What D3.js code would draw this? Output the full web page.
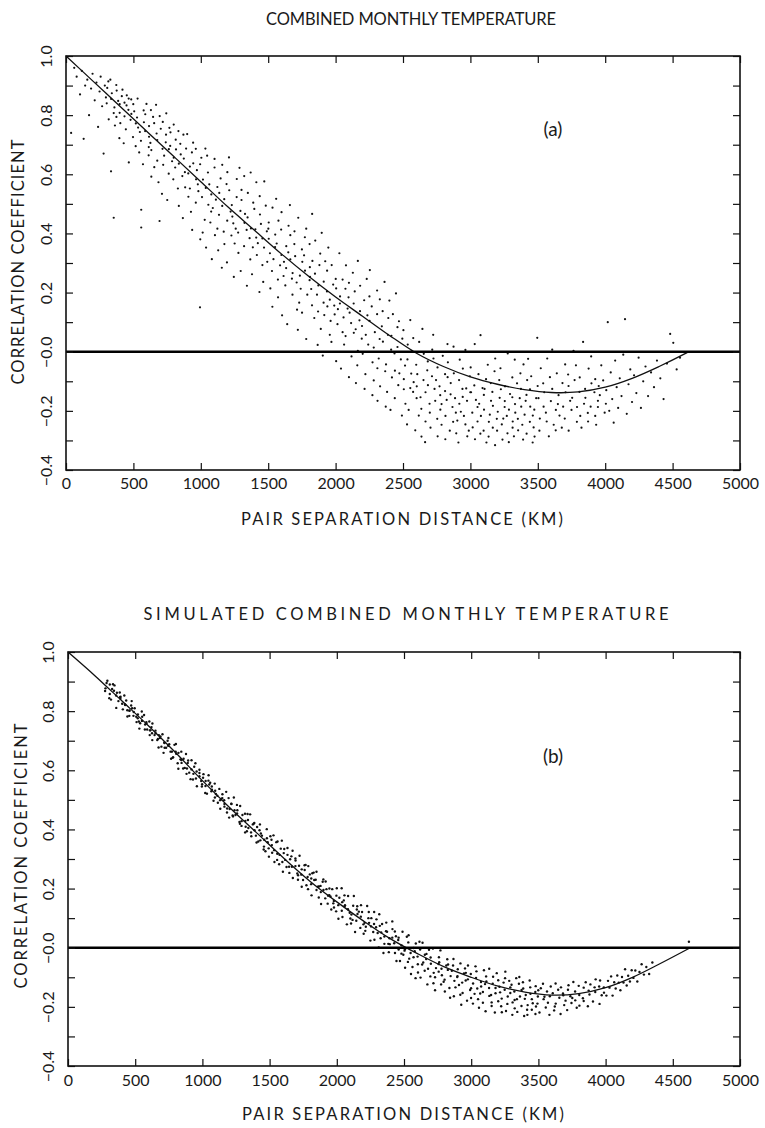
<!DOCTYPE html>
<html><head><meta charset="utf-8">
<script src="https://cdn.jsdelivr.net/npm/d3@7"></script>
<style>
html,body{margin:0;padding:0;background:#fff;}
svg{display:block;}
text{font-family:"Lato","Open Sans",sans-serif;font-weight:400;fill:#1a1a1a;}
</style></head>
<body>
<svg id="chart" width="765" height="1128"></svg>
<script>
// ---------------- DATA ----------------
const titleA = "COMBINED MONTHLY TEMPERATURE";
const titleB = "SIMULATED  COMBINED MONTHLY TEMPERATURE";
const xTitle = "PAIR SEPARATION DISTANCE (KM)";
const yTitle = "CORRELATION COEFFICIENT";
const tagA = "(a)", tagB = "(b)";
const xTickValues = [0,500,1000,1500,2000,2500,3000,3500,4000,4500,5000];
const yLabelValues = [1.0,0.8,0.6,0.4,0.2,0.0,-0.2,-0.4];
const yLabelText = ["1.0","0.8","0.6","0.4","0.2","\u22120.0","\u22120.2","\u22120.4"];
const yTickValues = [1.0,0.9,0.8,0.7,0.6,0.5,0.4,0.3,0.2,0.1,0.0,-0.1,-0.2,-0.3,-0.4];

// fitted curves: [km, correlation x100]
const curveA = [[0,100],[200,91.5],[400,83],[600,74.5],[800,66],[1000,57.5],[1200,49],[1400,41],[1600,33],[1800,25.5],[2000,18.5],[2200,12],[2400,5.5],[2600,-0.5],[2800,-5],[3000,-8.5],[3200,-11],[3400,-12.8],[3600,-13.8],[3800,-13.6],[4000,-12],[4200,-9],[4400,-5],[4600,-0.5],[4620,0]];
const curveB = [[0,100],[200,92],[400,83.5],[600,75],[800,66],[1000,56.5],[1200,47.5],[1400,39],[1600,30.5],[1800,22.5],[2000,15.5],[2200,9],[2400,3],[2600,-2],[2800,-6.5],[3000,-10],[3200,-13],[3400,-15],[3600,-16],[3800,-15.5],[4000,-13.5],[4200,-10],[4400,-5.5],[4630,0]];

// station pairs, observed: [km, correlation x100]
const pointsA = [
[38,74],[61,96],[79,93],[104,87],[117,95],[131,72],[142,90],[158,92],[171,80],[186,89],[197,94],[213,85],[226,91],[238,76],[249,88],[257,93],[268,83],[279,67],[288,90],[296,86],
[314,91.4],[302,84],[317,78.6],[306,89.2],[335,85.5],[329,92],[354,80.7],[334,61],[354,45.3],[340,87.4],[359,82.6],[373,90.2],[363,76.5],[387,84.8],[376,88.3],[374,79.4],[398,83.7],[396,72.2],[414,86.4],[398,80.8],[419,88.6],[403,77.3],[434,84.2],[428,70.5],[451,86.7],[434,79.6],[449,83.3],[444,75.2],[465,85.6],[479,78.4],[466,64],[463,81.8],[484,85.3],[497,72.6],[485,80.4],[518,77.2],[499,83.7],[517,69.5],[506,81.3],[535,75.8],[531,85.6],[543,67.4],[527,79.2],[558,48],[548,74.3],[558,42],[576,81.6],[556,71.3],[578,77.6],[571,63.4],[597,83.8],[587,74.6],[614,69.2],
[588,80.3],[616,72.7],[613,66.4],[630,81.7],[616,76.3],[633,59.2],[626,70.6],[646,79.4],[633,68.2],[668,83.5],[655,62.4],[672,73.8],[654,77.3],[677,64.6],[694,44.2],[677,71.6],[695,79.7],[686,57.3],[716,68.6],[703,75.4],[721,63.2],[718,77.7],[712,53.4],[740,70.8],[728,66.3],[744,80.6],[762,60.2],[742,73.4],[763,68.5],[751,51.3],[767,75.7],[787,64.4],[773,69.6],[796,58.3],[775,74.2],[799,65.6],[810,62.3],[799,76.8],[830,55.2],[816,68.4],[814,71.7],[837,49.3],[837,63.6],[834,74.6],[863,59.4],[851,66.7],[867,45.2],[848,70.3],[882,60.7],[871,73.4],[884,55.6],[874,65.3],[908,52.4],[891,68.7],[907,60.3],[899,73.6],[927,47.3],[919,62.6],[934,67.4],[919,55.2],[943,70.7],[936,41.2],[965,58.3],[944,63.7],[963,50.4],[963,68.6],[982,54.3],[971,61.4],[996,38],[978,56.6],[994,15],[1004,65.6],
[1009,52.3],[995,63.4],[1029,44.6],[1016,58.2],[1034,68.7],[1014,40.3],[1037,55.4],[1053,60.6],[1039,35.2],[1056,49.7],[1047,66.3],[1077,47.4],[1063,56.6],[1082,31.3],[1078,53.2],[1071,43.7],[1102,62.3],[1089,48.6],[1105,39.4],[1123,55.7],[1102,65.2],[1123,41.6],[1112,51.4],[1129,34.3],[1147,58.6],[1135,46.3],[1156,28.4],[1137,53.7],[1159,63.2],[1170,40.6],[1159,49.3],[1191,56.7],[1175,36.4],[1174,51.6],[1196,44.3],[1197,60.7],[1194,30.2],[1221,47.4],[1211,54.6],[1227,39.3],[1209,65.7],[1241,43.4],[1230,49.6],[1245,25.3],[1234,45.7],[1267,58.4],[1251,36.6],[1266,52.3],[1259,41.6],[1287,62.2],[1279,33.4],[1294,47.6],[1277,40.3],[1302,54.7],[1296,27.3],[1324,43.6],[1302,51.3],[1321,35.7],[1322,59.4],[1340,41.2],
[1342,22.3],[1328,46.6],[1362,38.4],[1349,53.7],[1367,31.2],[1347,45.4],[1370,60.6],[1386,35.3],[1372,41.7],[1389,50.4],[1380,26.2],[1411,38.6],[1397,48.3],[1416,32.7],[1412,57.3],[1405,41.4],[1435,20.2],[1423,36.7],[1439,46.4],[1457,29.3],[1437,52.6],[1457,38.3],[1446,43.2],[1463,23.6],[1482,49.4],[1469,35.2],[1490,40.7],[1471,57.6],[1493,30.4],[1504,43.7],
[1513,33.3],[1501,41.6],[1516,21.4],[1504,38.2],[1532,48.7],[1528,27.3],[1551,35.4],[1531,15.2],[1552,39.6],[1539,31.3],[1559,51.7],[1572,24.4],[1563,36.6],[1588,29.2],[1576,44.3],[1573,18.4],[1598,32.7],[1596,41.3],[1614,25.6],[1599,47.2],[1617,30.4],[1603,12.3],[1634,35.7],[1627,22.4],[1651,42.6],[1633,28.3],[1649,33.6],[1641,9.3],[1664,39.4],[1676,24.7],[1664,31.2],[1661,49.6],[1680,19.3],[1694,36.4],[1681,26.6],[1714,14.2],[1695,40.7],[1711,23.4],[1700,32.3],[1730,16.6],[1723,45.3],[1735,25.7],[1720,7.4],[1750,34.6],[1741,21.3],[1753,30.4],[1772,38.7],[1751,13.2],[1773,27.4],[1766,32.6],[1790,19.3],[1782,41.6],[1807,24.2],[1782,4.3],[1809,28.6],[1807,36.4],[1825,15.7],[1810,25.3],[1826,46.6],[1819,21.2],
[1842,11.4],[1828,30.7],[1862,19.3],[1849,37.6],[1867,2.3],[1847,26.4],[1870,13.6],[1886,33.2],[1872,22.4],[1890,7.7],[1880,29.3],[1911,16.6],[1897,40.2],[1916,12.4],[1912,23.7],[1905,-1.3],[1936,20.4],[1923,30.6],[1939,15.3],[1957,5.7],[1937,27.4],[1957,17.6],[1946,35.2],[1963,10.4],[1982,22.7],[1969,3.3],[1990,15.6],[1971,29.3],[1993,12.6],[2004,21.4],
[2014,9.3],[2001,24.6],[2017,14.4],[2004,-3.2],[2033,18.7],[2028,33.3],[2052,6.6],[2032,16.3],[2052,24.4],[2040,-5.7],[2059,11.6],[2073,21.3],[2063,2.4],[2089,14.6],[2077,29.2],[2074,5.3],[2099,-8.6],[2096,18.4],[2115,9.7],[2099,23.3],[2118,-1.6],[2104,13.2],[2135,6.4],[2128,26.7],[2151,-10.6],[2134,16.3],[2149,7.6],[2142,20.4],[2165,0.3],[2177,10.6],[2165,30.7],[2161,-4.6],[2181,13.7],[2194,4.4],[2182,22.3],[2215,-12.6],[2196,8.7],[2212,17.4],[2201,-0.7],[2231,24.6],[2224,5.7],[2236,12.3],[2221,-7.6],[2251,18.7],[2242,2.4],[2254,27.6],[2273,-14.7],[2252,10.4],[2274,-3.6],[2268,15.3],[2291,6.6],[2283,-9.7],[2308,20.7],[2283,1.4],[2310,-5.6],[2308,12.7],[2327,4.3],[2311,-16.6],[2328,17.7],[2320,-2.3],
[2343,8.6],[2330,-11.7],[2363,23.6],[2351,3.4],[2368,-6.6],[2349,13.7],[2372,-18.6],[2388,5.7],[2374,-4.3],[2391,11.4],[2382,-13.6],[2412,0.7],[2399,17.3],[2418,-8.7],[2414,5.4],[2407,-19.7],[2437,-0.6],[2425,12.7],[2440,-6.4],[2459,8.3],[2439,-15.7],[2459,1.6],[2448,19.7],[2465,-11.3],[2484,-2.6],[2470,10.3],[2492,-21.6],[2473,-7.3],[2495,4.4],[2506,-12.7],
[2515,-4.7],[2503,7.3],[2518,-17.6],[2506,-9.3],[2535,2.4],[2530,-24.6],[2554,-12.3],[2533,-2.6],[2554,10.7],[2542,-19.7],[2561,-7.4],[2575,-13.6],[2565,0.3],[2591,-26.6],[2579,-10.3],[2576,4.6],[2601,-15.7],[2598,-4.4],[2617,-21.6],[2602,-11.7],[2620,3.3],[2606,-7.6],[2637,-28.7],[2630,-15.4],[2654,-0.7],[2636,-19.3],[2652,-9.6],[2644,7.7],[2667,-23.6],[2680,-6.3],[2667,-13.7],[2664,-30.6],[2684,-3.3],[2697,-17.6],[2685,-11.3],[2717,0.7],[2699,-20.6],[2715,-8.3],[2704,-25.7],[2734,-12.6],[2726,-2.3],[2739,-16.6],[2724,5.7],[2754,-22.7],[2745,-9.6],[2757,-28.6],[2776,-14.7],[2756,-5.3],[2777,-19.6],[2771,-11.7],[2795,-1.4],[2786,-24.7],[2812,-7.6],[2786,-17.7],[2814,-29.6],[2812,-13.3],[2830,2.6],[2815,-21.7],[2831,-8.6],[2824,-16.3],
[2847,-26.7],[2833,-3.6],[2867,-18.7],[2854,-10.6],[2872,-23.7],[2853,-14.4],[2875,1.7],[2892,-20.6],[2877,-7.3],[2895,-27.6],[2886,-15.7],[2916,-9.6],[2903,-23.3],[2921,-2.7],[2918,-17.6],[2911,-30.7],[2941,-12.6],[2929,-20.3],[2944,-5.7],[2963,-24.6],[2943,-15.3],[2963,0.6],[2952,-21.7],[2969,-12.4],[2988,-26.7],[2975,-16.6],[2996,-8.3],[2977,-28.6],[2999,-13.7],
[3014,-20.6],[3002,-5.3],[3017,-25.6],[3005,-13.7],[3034,-29.6],[3029,-11.4],[3053,-18.7],[3032,2.6],[3053,-23.6],[3041,-16.3],[3060,-7.6],[3074,-27.7],[3065,-17.6],[3090,-12.3],[3078,-21.7],[3075,5.6],[3100,-14.6],[3098,-26.7],[3116,-9.3],[3101,-19.6],[3119,-30.7],[3105,-12.6],[3137,-23.7],[3129,-4.4],[3153,-16.6],[3135,-28.7],[3151,-10.6],[3144,-21.3],[3166,-25.7],[3179,-6.6],[3167,-18.3],[3163,-13.6],[3183,-31.6],[3196,-22.7],[3184,-2.3],[3217,-15.6],[3198,-26.7],[3214,-9.6],[3203,-20.3],[3233,-24.6],[3226,-12.7],[3238,-29.7],[3223,-5.6],[3254,-18.7],[3244,-22.6],[3257,-11.7],[3275,-27.6],[3255,-16.7],[3277,-0.6],[3270,-21.7],[3294,-14.3],[3285,-30.6],[3311,-8.7],[3286,-19.6],[3313,-25.7],[3311,-15.4],[3329,-2.7],[3314,-23.6],[3331,-17.7],[3323,-28.6],
[3346,-10.7],[3333,-20.6],[3366,-15.7],[3354,-26.6],[3371,-7.3],[3352,-22.7],[3375,-12.6],[3391,-29.7],[3377,-18.6],[3394,-4.3],[3385,-24.7],[3416,-14.6],[3402,-21.3],[3421,-9.6],[3417,-27.7],[3410,-16.6],[3441,-23.7],[3428,-2.4],[3444,-18.6],[3462,-30.7],[3442,-12.7],[3463,-21.6],[3451,-8.3],[3469,-25.6],[3488,-15.7],[3474,-19.6],[3496,4.7],[3476,-28.7],[3499,-11.6],
[3515,-22.6],[3505,-15.7],[3522,-5.6],[3512,-26.7],[3543,-18.6],[3540,-10.7],[3566,-23.6],[3548,-13.7],[3570,-2.3],[3560,-20.6],[3582,-28.6],[3597,-16.7],[3590,-8.6],[3618,-24.7],[3607,-12.6],[3607,0.7],[3634,-19.7],[3633,-26.6],[3654,-14.7],[3641,-7.3],[3661,-21.6],[3649,-17.7],[3683,-10.6],[3678,-25.7],[3703,-4.3],[3688,-18.6],[3706,-13.7],[3700,-22.6],[3725,-7.7],[3740,-16.6],[3729,-26.7],[3728,-11.6],[3750,-19.7],[3765,0.3],[3755,-15.6],[3790,-23.7],[3773,-9.6],[3791,-18.7],[3783,-4.6],[3815,-21.7],[3809,-13.6],[3824,-25.7],[3811,-8.7],[3843,-17.6],[3836,3.3],[3851,-12.6],[3871,-20.7],[3853,-15.6],[3877,-5.7],[3873,-23.6],[3898,-10.7],[3892,-18.6],[3920,-13.7],[3896,-1.6],[3926,-21.7],[3926,-9.3],[3946,-16.6],[3933,-24.7],[3952,-11.6],[3946,-18.7],[3971,-4.6],[3960,-14.7],[3996,-20.6],[3985,-9.7],[4005,-17.6],
[4008,-13],[4019,10],[4030,-20],[4041,-7],[4052,-16],[4063,-24],[4074,-3],[4085,-12],[4096,-19],[4108,-9],[4121,-15],[4134,-1],[4147,11],[4160,-21],[4173,-11],[4186,-6],[4199,-17],[4214,-8],[4231,-14],[4248,-2],[4265,-19],[4282,-10],[4299,-5],[4318,-15],[4340,-7],[4362,-12],[4384,-3],[4409,-9],[4433,-16],[4458,-4],[4482,6],[4505,3],[4530,-6],[4555,-2]
];

// station pairs, simulated: [km, correlation x100]
const pointsB = [
[287,89.5],[276,86.8],[293,90.3],[279,87.7],[311,89.0],[307,84.4],[328,87.5],[311,85.8],[335,89.1],[320,83.9],[342,86.9],[358,85.3],[346,88.7],[375,83.4],[364,86.2],[359,81.1],[387,84.7],[385,86.3],[403,82.5],[390,84.2],
[408,80.6],[391,84.9],[425,82.1],[419,85.3],[441,80.3],[425,82.3],[442,78.2],[433,83.6],[458,80.1],[470,81.9],[456,78.4],[456,80.2],[474,83.4],[487,78.4],[477,81.0],[510,76.3],[489,79.7],[508,78.1],[496,81.0],[527,76.5],
[520,78.9],[531,74.1],[519,77.6],[549,79.9],[537,75.9],[552,78.1],[572,73.8],[550,76.7],[574,75.5],[566,78.7],[589,73.8],[584,75.8],[608,71.9],[583,76.3],[610,73.5],[605,76.5],[625,72.5],[612,73.5],[627,70.2],[621,74.6],
[644,71.9],[628,75.8],[664,70.2],[652,72.5],[669,70.6],[651,73.4],[674,67.7],[688,71.4],[676,71.9],[695,68.0],[684,70.9],[716,69.4],[703,72.2],[719,67.6],[718,69.2],[711,65.9],[741,70.0],[730,67.6],[747,70.9],[763,66.3],
[745,68.3],[767,63.9],[753,68.8],[773,66.3],[792,68.6],[778,64.2],[801,66.3],[782,64.4],[803,68.9],[816,62.4],[805,65.6],[837,63.7],[822,65.9],[821,60.5],[843,66.3],[845,62.5],[843,63.5],[869,60.8],[860,63.9],[878,65.5],
[857,60.6],[891,62.5],[882,58.8],[894,63.3],[885,60.6],[919,63.4],[902,59.2],[919,60.3],[912,57.0],[939,61.2],[933,58.8],[948,62.4],[930,56.9],[957,59.6],[952,57.2],[978,60.2],[959,54.6],[978,58.0],[978,59.1],[998,55.3],
[1005,57.5],[991,56.4],[1008,58.7],[996,54.5],[1024,56.4],[1021,52.3],[1045,56.5],[1023,54.7],[1046,58.3],[1034,52.1],[1051,55.2],[1067,52.9],[1058,55.8],[1083,49.7],[1071,53.4],[1070,54.5],[1093,50.8],[1092,55.5],[1111,51.4],[1095,53.1],
[1115,49.0],[1100,52.0],[1132,49.9],[1126,53.7],[1148,50.6],[1133,47.0],[1149,51.9],[1140,50.3],[1164,47.7],[1177,52.7],[1164,48.6],[1162,49.9],[1183,45.7],[1195,50.6],[1184,47.1],[1216,48.6],[1199,44.0],[1215,48.7],[1203,46.9],[1234,50.8],
[1228,44.4],[1239,46.5],[1225,44.7],[1257,48.3],[1246,44.9],[1260,46.5],[1279,41.9],[1258,45.4],[1281,47.9],[1276,42.5],[1298,44.9],[1291,41.2],[1317,45.3],[1291,42.8],[1320,42.9],[1318,39.0],[1336,45.2],[1322,40.9],[1339,43.2],[1331,39.4],
[1355,45.1],[1342,40.5],[1375,41.7],[1364,37.7],[1382,41.9],[1362,39.0],[1386,42.2],[1403,35.6],[1388,39.7],[1407,40.8],[1398,37.9],[1428,41.7],[1416,35.9],[1435,38.6],[1431,36.3],[1425,39.7],[1456,33.2],[1443,37.9],[1460,36.5],[1479,40.1],
[1458,34.2],[1480,37.0],[1469,32.6],[1486,35.7],[1506,37.7],[1493,33.6],[1514,36.5],[1495,30.8],[1517,34.7],[1529,38.0],[1519,32.1],[1550,35.7],[1536,29.0],[1534,33.0],[1557,31.8],[1559,35.9],[1556,29.7],[1583,33.5],[1574,31.4],[1591,36.2],
[1571,28.2],[1605,32.0],[1595,29.0],[1609,33.4],[1599,25.7],[1633,31.4],[1616,29.7],[1633,33.7],[1626,27.3],[1653,29.9],[1647,25.3],[1662,30.9],[1645,27.4],[1671,32.8],[1666,27.4],[1693,29.5],[1673,23.6],[1692,27.6],[1692,30.2],[1712,24.5],
[1719,27.7],[1706,25.1],[1723,31.1],[1711,23.0],[1739,26.5],[1736,24.7],[1760,27.9],[1739,20.6],[1761,26.3],[1749,22.9],[1768,28.0],[1783,23.9],[1774,21.1],[1799,24.8],[1788,27.6],[1786,19.8],[1810,23.4],[1809,21.5],[1828,25.4],[1812,17.7],
[1832,22.9],[1818,25.2],[1849,19.5],[1843,23.0],[1867,20.7],[1849,25.7],[1866,17.0],[1859,20.6],[1881,18.8],[1895,22.3],[1883,14.8],[1879,20.9],[1900,23.1],[1914,16.7],[1901,19.5],[1935,17.6],[1917,22.4],[1932,14.9],[1923,19.8],[1953,17.3],
[1945,20.0],[1959,12.9],[1944,17.8],[1974,15.0],[1966,19.8],[1979,13.6],[1997,17.6],[1978,15.8],[2000,20.1],[1995,12.3],[2019,16.9],[2011,14.4],[2036,20.1],[2012,9.8],[2040,15.4],[2037,12.5],[2057,17.7],[2042,10.4],[2058,14.0],[2052,16.0],
[2075,7.9],[2061,14.4],[2096,11.8],[2084,17.5],[2101,9.9],[2083,13.0],[2106,8.2],[2122,14.2],[2109,11.2],[2127,17.5],[2117,9.4],[2149,12.9],[2136,5.3],[2154,11.4],[2152,14.0],[2145,9.1],[2175,6.7],[2164,12.2],[2180,14.4],[2198,7.9],
[2179,10.5],[2200,4.7],[2188,12.1],[2207,8.4],[2226,14.1],[2212,5.7],[2235,10.0],[2216,7.1],[2238,12.1],[2250,2.4],[2240,8.4],[2271,5.3],[2257,10.0],[2255,7.2],[2278,12.1],[2280,2.7],[2277,8.0],[2304,5.0],[2295,9.6],[2312,0.1],
[2292,6.9],[2326,3.2],[2316,11.3],[2330,5.2],[2320,7.4],[2354,1.3],[2337,8.0],[2354,3.8],[2347,-1.8],[2374,5.4],[2368,8.5],[2383,1.3],[2366,5.6],[2392,3.2],[2387,-1.5],[2414,6.3],[2394,1.2],[2413,3.4],[2413,8.9],[2433,-1.8],
[2440,3.9],[2427,1.5],[2444,-4.5],[2432,5.5],[2460,-0.6],[2457,2.6],[2481,-2.0],[2460,3.4],[2482,0.8],[2470,-4.5],[2489,5.4],[2504,-1.0],[2495,-2.4],[2521,3.7],[2508,-6.8],[2507,-0.5],[2532,1.8],[2529,-4.8],[2549,-1.8],[2534,4.2],
[2552,-8.9],[2539,-3.7],[2571,-0.1],[2563,-6.5],[2588,1.4],[2571,-3.2],[2586,-10.3],[2580,-1.2],[2603,-5.6],[2615,2.0],[2604,-8.4],[2601,-3.0],[2620,-0.6],[2635,-5.7],[2623,-10.1],[2655,-2.4],[2638,1.7],[2654,-7.8],[2643,-5.0],[2674,-12.4],
[2667,-2.1],[2679,-7.1],[2665,-3.8],[2696,-9.7],[2686,-0.7],[2700,-5.4],[2719,-12.0],[2698,-3.3],[2721,-8.5],[2715,-0.3],[2738,-6.9],[2731,-14.4],[2757,-5.5],[2731,-10.0],[2760,-3.2],[2758,-8.1],[2776,-12.4],[2762,-4.9],[2779,-7.1],[2771,-0.9],
[2795,-11.5],[2782,-9.3],[2815,-6.0],[2804,-14.8],[2822,-3.9],[2802,-10.8],[2826,-7.5],[2843,-16.9],[2828,-5.7],[2847,-9.6],[2838,-13.6],[2868,-3.8],[2856,-7.8],[2875,-11.2],[2871,-16.4],[2865,-6.0],[2896,-9.9],[2883,-13.4],[2900,-7.3],[2919,-15.9],
[2898,-9.6],[2920,-5.3],[2909,-12.6],[2926,-19.3],[2946,-8.7],[2933,-11.8],[2954,-7.0],[2936,-15.3],[2959,-11.1],[2969,-17.9],[2960,-8.5],[2992,-14.3],[2976,-6.0],[2975,-10.7],[2999,-17.0],[2999,-13.7],[2997,-8.9],[3025,-15.6],[3014,-12.1],[3032,-6.3],
[3013,-18.9],[3045,-13.8],[3036,-10.2],[3051,-17.4],[3039,-8.0],[3074,-13.1],[3058,-20.3],[3073,-11.6],[3067,-15.5],[3095,-7.6],[3087,-18.6],[3103,-12.3],[3087,-15.0],[3111,-9.7],[3107,-21.5],[3135,-16.3],[3113,-11.4],[3133,-13.6],[3134,-7.1],[3152,-19.7],
[3160,-12.2],[3148,-16.0],[3163,-9.8],[3152,-18.5],[3181,-13.6],[3176,-21.9],[3201,-11.0],[3181,-15.4],[3201,-18.1],[3190,-8.6],[3210,-13.2],[3223,-19.8],[3215,-15.1],[3241,-11.8],[3228,-21.8],[3227,-17.2],[3252,-10.3],[3249,-14.2],[3269,-19.0],[3254,-8.1],
[3272,-16.5],[3259,-21.4],[3291,-13.4],[3283,-11.2],[3308,-18.5],[3291,-15.3],[3306,-22.7],[3300,-12.5],[3323,-17.7],[3335,-10.3],[3324,-20.5],[3321,-14.8],[3340,-17.4],[3355,-12.2],[3343,-21.7],[3375,-14.3],[3358,-9.9],[3374,-19.7],[3363,-16.5],[3394,-23.1],
[3387,-13.8],[3399,-17.3],[3385,-11.7],[3416,-21.0],[3406,-16.0],[3420,-19.4],[3439,-13.4],[3418,-22.7],[3441,-15.6],[3435,-11.1],[3458,-18.8],[3451,-21.0],[3477,-15.0],[3451,-17.4],[3480,-13.0],[3478,-22.4],[3496,-16.5],[3482,-19.9],[3499,-14.4],[3493,-18.9],
[3518,-13.7],[3508,-21.9],[3545,-16.6],[3534,-12.2],[3555,-20.2],[3539,-17.4],[3564,-14.8],[3582,-22.7],[3571,-18.6],[3592,-13.1],[3585,-16.4],[3617,-21.2],[3607,-15.4],[3629,-18.9],[3628,-12.1],[3622,-19.9],[3656,-16.9],[3647,-14.2],[3665,-22.4],[3685,-16.1],
[3668,-13.4],[3692,-19.4],[3683,-15.5],[3702,-17.9],[3724,-12.7],[3714,-21.1],[3738,-16.4],[3720,-14.2],[3746,-18.7],[3760,-11.6],[3752,-17.0],[3785,-20.3],[3773,-14.8],[3774,-17.8],[3800,-12.9],[3804,-16.0],[3805,-19.6],[3837,-13.5],[3831,-17.1],[3852,-11.7],
[3837,-18.0],[3874,-14.5],[3868,-19.8],[3887,-12.4],[3880,-15.8],[3918,-13.4],[3906,-18.2],[3926,-10.7],[3923,-15.0],[3955,-19.0],[3952,-13.1],[3971,-16.1],[3959,-11.1],[3988,-15.2],[3987,-13.4],
[4006,-16.2],[4018,-11.2],[4029,-13.5],[4041,-9.7],[4052,-16.2],[4064,-11.7],[4075,-13.8],[4087,-9.4],[4098,-11.8],
[4110,-14.4],[4122,-9.9],[4133,-11.8],[4145,-7.3],[4157,-12.8],[4168,-9.5],[4181,-11.4],[4194,-7.6],
[4207,-10.2],[4221,-7.7],[4236,-11.4],[4252,-8.2],[4268,-5.6],[4285,-9.1],[4303,-6.5],[4324,-8.9],[4348,-5.0],[4620,2.0]
];

// ---------------- DRAWING ----------------
const svg = d3.select("#chart");
svg.append("rect").attr("width",765).attr("height",1128).attr("fill","#fff");
const FONT = "Lato, 'Open Sans', sans-serif";

function drawPanel(cfg, points, curve, title, tag) {
  const x = d3.scaleLinear().domain([0,5000]).range([cfg.left, cfg.right]);
  const y = d3.scaleLinear().domain([-0.4,1.0]).range([cfg.bottom, cfg.top]);
  const g = svg.append("g");

  g.append("text").attr("x", cfg.titleX).attr("y", cfg.titleY)
    .attr("text-anchor","middle").attr("font-size",16.5)
    .attr("textLength", cfg.titleW).attr("lengthAdjust","spacing")
    .text(title);

  g.append("g").selectAll("circle").data(points).join("circle")
    .attr("cx", d => x(d[0])).attr("cy", d => y(d[1]/100))
    .attr("r", cfg.dotR).attr("fill","#111");

  const line = d3.line().x(d => x(d[0])).y(d => y(d[1]/100)).curve(d3.curveCatmullRom);
  g.append("path").datum(curve).attr("d", line)
    .attr("fill","none").attr("stroke","#111").attr("stroke-width",1.3);

  g.append("line").attr("x1", cfg.left).attr("x2", cfg.right)
    .attr("y1", y(0)).attr("y2", y(0)).attr("stroke","#000").attr("stroke-width",2.6);

  const tickStyle = sel => { sel.select(".domain").remove(); sel.selectAll("line").attr("stroke","#111").attr("stroke-width",1.2); };
  g.append("g").attr("transform",`translate(0,${cfg.bottom})`)
    .call(d3.axisBottom(x).tickValues(xTickValues).tickSize(-7).tickFormat("")).call(tickStyle);
  g.append("g").attr("transform",`translate(0,${cfg.top})`)
    .call(d3.axisTop(x).tickValues(xTickValues).tickSize(-7).tickFormat("")).call(tickStyle);
  g.append("g").attr("transform",`translate(${cfg.left},0)`)
    .call(d3.axisLeft(y).tickValues(yTickValues).tickSize(-7).tickFormat("")).call(tickStyle);
  g.append("g").attr("transform",`translate(${cfg.right},0)`)
    .call(d3.axisRight(y).tickValues(yTickValues).tickSize(-7).tickFormat("")).call(tickStyle);

  g.append("rect").attr("x",cfg.left).attr("y",cfg.top)
    .attr("width",cfg.right-cfg.left).attr("height",cfg.bottom-cfg.top)
    .attr("fill","none").attr("stroke","#111").attr("stroke-width",1.6);

  const xl = g.append("g").attr("transform",`translate(0,${cfg.bottom})`)
    .call(d3.axisBottom(x).tickValues(xTickValues).tickSize(0).tickPadding(cfg.xPad).tickFormat(d3.format("d")));
  xl.select(".domain").remove();
  xl.selectAll("text").attr("font-size",16).attr("font-family",FONT).attr("fill","#1a1a1a");

  const yl = g.append("g").attr("transform",`translate(${cfg.left},0)`)
    .call(d3.axisLeft(y).tickValues(yLabelValues).tickSize(0).tickFormat((d,i) => yLabelText[i]));
  yl.select(".domain").remove();
  yl.selectAll(".tick text")
    .attr("x",0).attr("dy",null).attr("y",0)
    .attr("text-anchor","middle")
    .attr("transform", `translate(${-cfg.yLabOff},0) rotate(-90)`)
    .attr("dominant-baseline","central")
    .attr("font-size",16).attr("font-family",FONT).attr("fill","#1a1a1a");

  g.append("text").attr("x", cfg.xTitleX).attr("y", cfg.xTitleY)
    .attr("text-anchor","middle").attr("font-size",16.5)
    .attr("textLength", cfg.xTitleW).attr("lengthAdjust","spacing").text(xTitle);
  g.append("text").attr("transform",`translate(${cfg.yTitleX},${cfg.yTitleY}) rotate(-90)`)
    .attr("text-anchor","middle").attr("font-size",16.5)
    .attr("textLength", cfg.yTitleW).attr("lengthAdjust","spacing").text(yTitle);

  g.append("text").attr("x", cfg.tagX).attr("y", cfg.tagY).attr("text-anchor","middle")
    .attr("font-family","'Liberation Sans', Arial, sans-serif")
    .attr("font-size",19).text(tag);
}

drawPanel({left:66,right:740,top:56,bottom:470,dotR:1.1,
           titleX:411,titleY:25,titleW:290,xPad:8,yLabOff:21,
           xTitleX:402,xTitleY:525,xTitleW:322,yTitleX:24,yTitleY:262,yTitleW:245,
           tagX:553,tagY:136}, pointsA, curveA, titleA, tagA);
drawPanel({left:68,right:740,top:652,bottom:1066,dotR:1.2,
           titleX:406,titleY:620,titleW:525,xPad:9,yLabOff:21,
           xTitleX:403,xTitleY:1120,xTitleW:322,yTitleX:27,yTitleY:856,yTitleW:265,
           tagX:553,tagY:763}, pointsB, curveB, titleB, tagB);
</script>
</body></html>
